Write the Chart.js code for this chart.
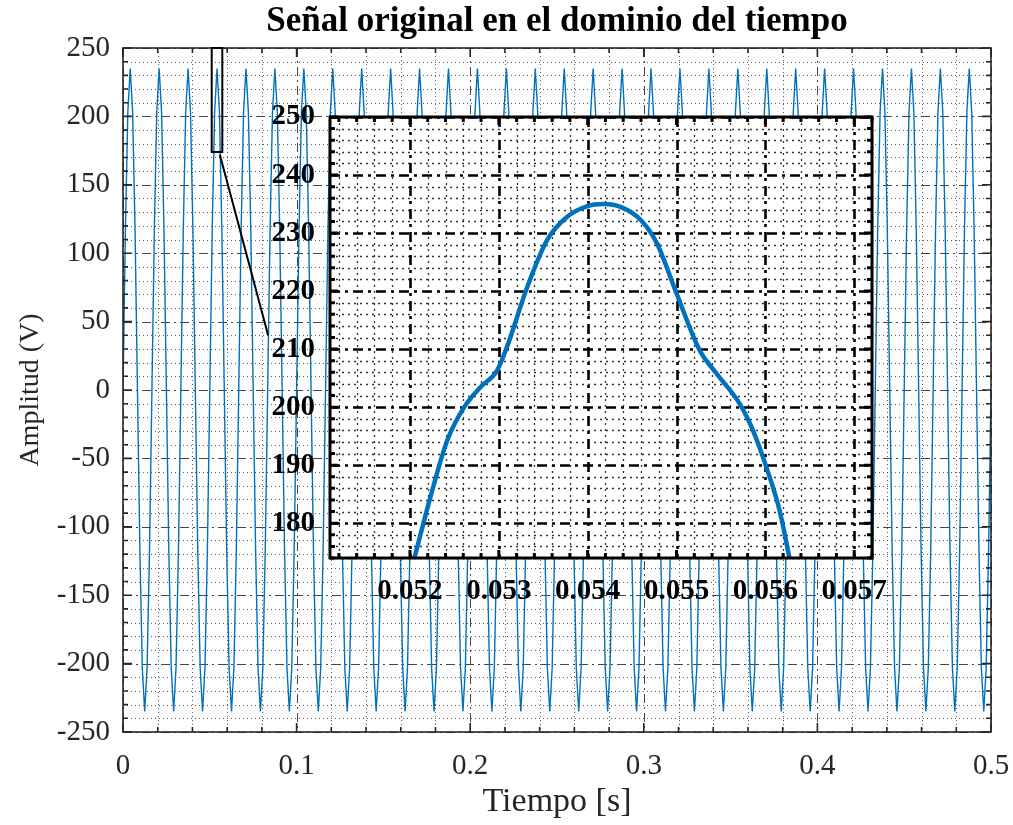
<!DOCTYPE html>
<html lang="es">
<head>
<meta charset="UTF-8" />
<title>Señal original en el dominio del tiempo</title>
<script src="https://cdn.jsdelivr.net/npm/chart.js"></script>
<style>
  body { margin: 0; background: #fff; }
  #cont { position: relative; width: 1013px; height: 825px; }
  #principal { position: absolute; left: 0; top: 0; }
  #zoom { position: absolute; left: 255px; top: 100px; }
</style>
</head>
<body>
<div id="cont">
  <canvas id="principal" width="1013" height="825"></canvas>
  <canvas id="zoom" width="650" height="520"></canvas>
</div>
<script>
// Señal principal: 12 muestras por ciclo de 60 Hz (fs = 720 Hz)
const fs = 720;
const amplitud = [
  0, 117, 203, 235, 203, 117, 0, -117, -203, -235, -203, -117,
  0, 117, 203, 235, 203, 117, 0, -117, -203, -235, -203, -117,
  0, 117, 203, 235, 203, 117, 0, -117, -203, -235, -203, -117,
  0, 117, 203, 235, 203, 117, 0, -117, -203, -235, -203, -117,
  0, 117, 203, 235, 203, 117, 0, -117, -203, -235, -203, -117,
  0, 117, 203, 235, 203, 117, 0, -117, -203, -235, -203, -117,
  0, 117, 203, 235, 203, 117, 0, -117, -203, -235, -203, -117,
  0, 117, 203, 235, 203, 117, 0, -117, -203, -235, -203, -117,
  0, 117, 203, 235, 203, 117, 0, -117, -203, -235, -203, -117,
  0, 117, 203, 235, 203, 117, 0, -117, -203, -235, -203, -117,
  0, 117, 203, 235, 203, 117, 0, -117, -203, -235, -203, -117,
  0, 117, 203, 235, 203, 117, 0, -117, -203, -235, -203, -117,
  0, 117, 203, 235, 203, 117, 0, -117, -203, -235, -203, -117,
  0, 117, 203, 235, 203, 117, 0, -117, -203, -235, -203, -117,
  0, 117, 203, 235, 203, 117, 0, -117, -203, -235, -203, -117,
  0, 117, 203, 235, 203, 117, 0, -117, -203, -235, -203, -117,
  0, 117, 203, 235, 203, 117, 0, -117, -203, -235, -203, -117,
  0, 117, 203, 235, 203, 117, 0, -117, -203, -235, -203, -117,
  0, 117, 203, 235, 203, 117, 0, -117, -203, -235, -203, -117,
  0, 117, 203, 235, 203, 117, 0, -117, -203, -235, -203, -117,
  0, 117, 203, 235, 203, 117, 0, -117, -203, -235, -203, -117,
  0, 117, 203, 235, 203, 117, 0, -117, -203, -235, -203, -117,
  0, 117, 203, 235, 203, 117, 0, -117, -203, -235, -203, -117,
  0, 117, 203, 235, 203, 117, 0, -117, -203, -235, -203, -117,
  0, 117, 203, 235, 203, 117, 0, -117, -203, -235, -203, -117,
  0, 117, 203, 235, 203, 117, 0, -117, -203, -235, -203, -117,
  0, 117, 203, 235, 203, 117, 0, -117, -203, -235, -203, -117,
  0, 117, 203, 235, 203, 117, 0, -117, -203, -235, -203, -117,
  0, 117, 203, 235, 203, 117, 0, -117, -203, -235, -203, -117,
  0, 117, 203, 235, 203, 117, 0, -117, -203, -235, -203, -117,
  0
];
const ticksX = [0, 0.1, 0.2, 0.3, 0.4, 0.5];
const ticksY = [-250, -200, -150, -100, -50, 0, 50, 100, 150, 200, 250];

// Ampliación del pico alrededor de t = 0.054 s
const zoomTiempo = [0.05205, 0.05223, 0.05242, 0.05261, 0.05279, 0.05298, 0.05309, 0.05332, 0.05354,
  0.05377, 0.05399, 0.05418, 0.05437, 0.0546, 0.05478, 0.055, 0.05526, 0.05545, 0.05571,
  0.05586, 0.05601, 0.05616, 0.05627];
const zoomAmplitud = [174, 184.5, 194.3, 200, 203.4, 206.3, 210.3, 220.7, 228.7,
  232.8, 234.6, 235, 234.5, 232.2, 228.2, 219.6, 209.8, 205.8, 200.6,
  196, 189.7, 182.2, 174.1];
const zoomTicksX = [0.052, 0.053, 0.054, 0.055, 0.056, 0.057];
const zoomTicksY = [180, 190, 200, 210, 220, 230, 240, 250];

// recuadro y línea que señalan la zona ampliada (coordenadas de datos)
const recuadroX = [0.0511, 0.0572];
const recuadroY = [174, 250];
const lineaX = [0.0558, 0.0836];
const lineaY = [172, 40];

const fuente = 'Liberation Serif';

function paso(min, max, p) {
  const out = [];
  for (let i = Math.ceil(min / p - 1e-6); i * p <= max + 1e-9; i++) out.push(+(i * p).toFixed(7));
  return out;
}
function esta(v, lista) { return lista.some(m => Math.abs(m - v) < 1e-7); }

// sin relleno extra por las etiquetas: el área la fijan layout.padding y afterFit
function sinRelleno(s) { s.paddingLeft = 0; s.paddingRight = 0; s.paddingTop = 0; s.paddingBottom = 0; }

// rejilla mayor/menor, marcas interiores y caja estilo MATLAB
function rejilla(c) {
  return {
    id: 'rejilla',
    beforeDatasetsDraw(chart) {
      const { ctx, chartArea: a, scales: { x, y } } = chart;
      ctx.save();
      if (c.fondo) { ctx.fillStyle = c.fondo; ctx.fillRect(a.left, a.top, a.right - a.left, a.bottom - a.top); }
      const menX = paso(x.min, x.max, c.pasoX).filter(v => !esta(v, c.mayX));
      const menY = paso(y.min, y.max, c.pasoY).filter(v => !esta(v, c.mayY));
      const trazar = (vx, vy, st) => {
        ctx.beginPath();
        ctx.setLineDash(st.dash); ctx.lineWidth = st.ancho; ctx.strokeStyle = st.color;
        vx.forEach(v => { const p = Math.round(x.getPixelForValue(v)) + 0.5; ctx.moveTo(p, a.top); ctx.lineTo(p, a.bottom); });
        vy.forEach(v => { const p = Math.round(y.getPixelForValue(v)) + 0.5; ctx.moveTo(a.left, p); ctx.lineTo(a.right, p); });
        ctx.stroke();
      };
      trazar(menX, menY, c.menor);
      trazar(c.mayX, c.mayY, c.mayor);
      ctx.restore();
    },
    afterDatasetsDraw(chart) {
      const { ctx, chartArea: a, scales: { x, y } } = chart;
      ctx.save();
      ctx.setLineDash([]); ctx.strokeStyle = c.borde.color; ctx.lineWidth = c.borde.ancho;
      ctx.beginPath();
      const marcasX = (vals, L) => vals.forEach(v => { const p = x.getPixelForValue(v);
        ctx.moveTo(p, a.bottom); ctx.lineTo(p, a.bottom - L); ctx.moveTo(p, a.top); ctx.lineTo(p, a.top + L); });
      const marcasY = (vals, L) => vals.forEach(v => { const p = y.getPixelForValue(v);
        ctx.moveTo(a.left, p); ctx.lineTo(a.left + L, p); ctx.moveTo(a.right, p); ctx.lineTo(a.right - L, p); });
      marcasX(c.mayX, c.largo); marcasY(c.mayY, c.largo);
      marcasX(paso(x.min, x.max, c.pasoX).filter(v => !esta(v, c.mayX)), c.largoMenor);
      marcasY(paso(y.min, y.max, c.pasoY).filter(v => !esta(v, c.mayY)), c.largoMenor);
      ctx.stroke();
      ctx.strokeRect(a.left, a.top, a.right - a.left, a.bottom - a.top);
      if (c.extra) c.extra(chart);
      ctx.restore();
    }
  };
}

new Chart(document.getElementById('principal'), {
  type: 'line',
  data: {
    datasets: [{
      data: amplitud.map((v, i) => ({ x: i / fs, y: v })),
      borderColor: '#0072BD',
      borderWidth: 1.4,
      pointRadius: 0,
      tension: 0
    }]
  },
  options: {
    responsive: false,
    animation: false,
    layout: { padding: { left: 0, right: 22, top: 0, bottom: 0 } },
    plugins: {
      legend: { display: false },
      tooltip: { enabled: false },
      title: {
        display: true,
        text: 'Señal original en el dominio del tiempo',
        fullSize: false,
        color: '#000',
        font: { family: fuente, size: 35, weight: 'bold', lineHeight: 1.2 },
        padding: { top: 1, bottom: 5 }
      }
    },
    scales: {
      x: {
        type: 'linear', min: 0, max: 0.5,
        afterFit: s => { s.height = 93; sinRelleno(s); },
        afterBuildTicks: s => { s.ticks = ticksX.map(v => ({ value: v })); },
        grid: { display: false, drawTicks: false }, border: { display: false },
        ticks: { color: '#262626', font: { family: fuente, size: 29 }, padding: 17, maxRotation: 0, callback: v => String(v) },
        title: { display: true, text: 'Tiempo [s]', color: '#262626', font: { family: fuente, size: 34 }, padding: { top: 0, bottom: 3 } }
      },
      y: {
        min: -250, max: 250,
        afterFit: s => { s.width = 123; sinRelleno(s); },
        afterBuildTicks: s => { s.ticks = ticksY.map(v => ({ value: v })); },
        grid: { display: false, drawTicks: false }, border: { display: false },
        ticks: { color: '#262626', font: { family: fuente, size: 29 }, padding: 13, callback: v => String(v) },
        title: { display: true, text: 'Amplitud (V)', color: '#262626', font: { family: fuente, size: 28 }, padding: { top: 14, bottom: 0 } }
      }
    }
  },
  plugins: [rejilla({
    pasoX: 0.02, pasoY: 10, mayX: ticksX, mayY: ticksY,
    menor: { dash: [1, 3], ancho: 1, color: 'rgba(38,38,38,0.75)' },
    mayor: { dash: [9, 4, 2, 4], ancho: 1, color: 'rgba(38,38,38,0.85)' },
    borde: { color: '#262626', ancho: 1.6 },
    largo: 9, largoMenor: 5,
    extra(chart) {
      const { ctx, scales: { x, y } } = chart;
      ctx.strokeStyle = '#000'; ctx.lineWidth = 2;
      const x1 = x.getPixelForValue(recuadroX[0]), x2 = x.getPixelForValue(recuadroX[1]);
      const y1 = y.getPixelForValue(recuadroY[1]), y2 = y.getPixelForValue(recuadroY[0]);
      ctx.strokeRect(x1, y1, x2 - x1, y2 - y1);
      ctx.beginPath();
      ctx.moveTo(x.getPixelForValue(lineaX[0]), y.getPixelForValue(lineaY[0]));
      ctx.lineTo(x.getPixelForValue(lineaX[1]), y.getPixelForValue(lineaY[1]));
      ctx.stroke();
    }
  })]
});

new Chart(document.getElementById('zoom'), {
  type: 'line',
  data: {
    datasets: [{
      data: zoomTiempo.map((t, i) => ({ x: t, y: zoomAmplitud[i] })),
      borderColor: '#0072BD',
      borderWidth: 4.5,
      pointRadius: 0,
      cubicInterpolationMode: 'monotone'
    }]
  },
  options: {
    responsive: false,
    animation: false,
    layout: { padding: { left: 0, right: 33, top: 17, bottom: 0 } },
    plugins: { legend: { display: false }, tooltip: { enabled: false } },
    scales: {
      x: {
        type: 'linear', min: 0.0511, max: 0.0572,
        afterFit: s => { s.height = 62; sinRelleno(s); },
        afterBuildTicks: s => { s.ticks = zoomTicksX.map(v => ({ value: v })); },
        grid: { display: false, drawTicks: false }, border: { display: false },
        ticks: { color: '#000', font: { family: fuente, size: 29, weight: 'bold' }, padding: 16, maxRotation: 0, callback: v => v.toFixed(3) }
      },
      y: {
        min: 174, max: 250,
        afterFit: s => { s.width = 75; sinRelleno(s); },
        afterBuildTicks: s => { s.ticks = zoomTicksY.map(v => ({ value: v })); },
        grid: { display: false, drawTicks: false }, border: { display: false },
        ticks: { color: '#000', font: { family: fuente, size: 29, weight: 'bold' }, padding: 15, callback: v => String(v) }
      }
    }
  },
  plugins: [rejilla({
    fondo: '#fff',
    pasoX: 0.0002, pasoY: 2, mayX: zoomTicksX, mayY: zoomTicksY,
    menor: { dash: [2, 4], ancho: 1.3, color: 'rgba(0,0,0,0.8)' },
    mayor: { dash: [10, 5, 3, 5], ancho: 2.6, color: '#000' },
    borde: { color: '#000', ancho: 3 },
    largo: 8, largoMenor: 5
  })]
});
</script>
</body>
</html>
